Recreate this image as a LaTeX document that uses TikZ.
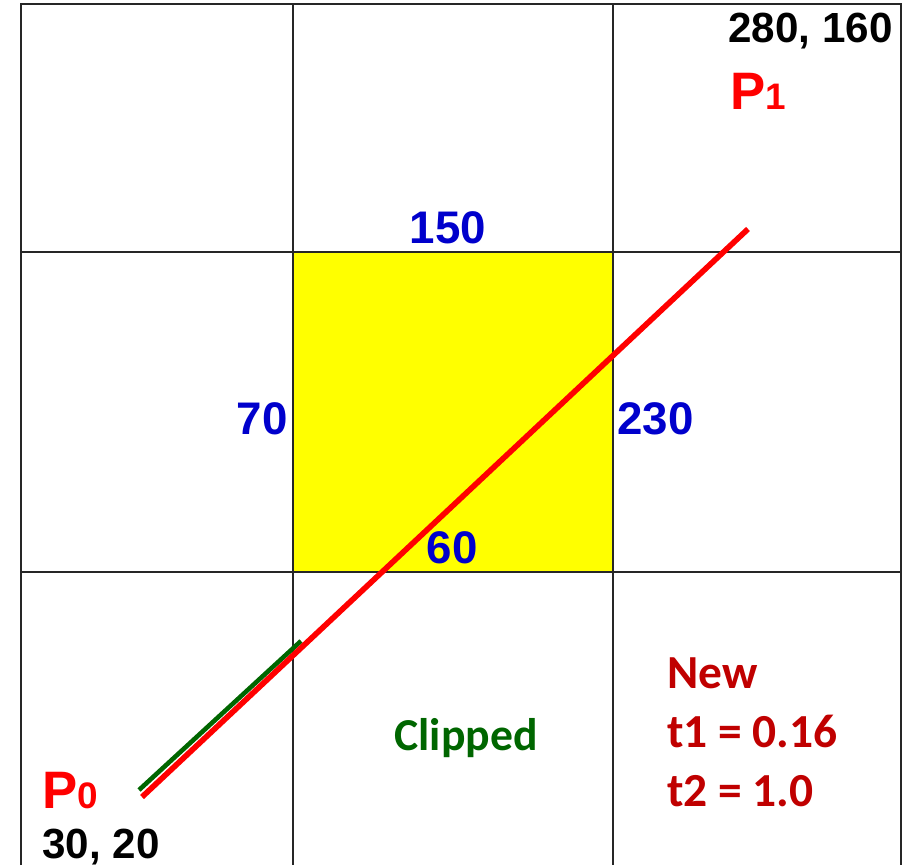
\documentclass[tikz,border=0pt]{standalone}
\usepackage{fontspec}
\setmainfont{Liberation Sans}
\newfontfamily\calibfont{Carlito}
\usepackage{tikz}
\definecolor{numblue}{HTML}{0000CC}
\definecolor{linered}{HTML}{FF0000}
\definecolor{notered}{HTML}{C00000}
\definecolor{clipgreen}{HTML}{006600}
\definecolor{winyellow}{HTML}{FFFF00}

\begin{document}
\begin{tikzpicture}[x=0.02cm, y=-0.02cm,
      grid/.style={draw=black!85, line width=0.8pt},
      num/.style={text=numblue, font=\fontsize{26}{30}\selectfont\bfseries, inner sep=0pt},
      coordlabel/.style={text=black, font=\fontsize{24}{28}\selectfont\bfseries, inner sep=0pt},
      ptlabel/.style={text=linered, font=\fontsize{30}{34}\selectfont\bfseries, inner sep=0pt},
      note/.style={text=notered, font=\calibfont\fontsize{27}{32}\selectfont\bfseries, inner sep=0pt, anchor=base west}
    ]
      \useasboundingbox (0,0) rectangle (912,865);

      % clip window
      \fill[winyellow] (293,252) rectangle (613,572);

      % region grid
      \draw[grid] (21,865) -- (21,4) -- (901,4) -- (901,865);
      \draw[grid] (293,4) -- (293,865);
      \draw[grid] (613,4) -- (613,865);
      \draw[grid] (21,252) -- (901,252);
      \draw[grid] (21,572) -- (901,572);

      % window bounds
      \node[num, anchor=base] (ytop) at (448,243) {150};
      \node[num, anchor=base east] (xmin) at (288,434) {70};
      \node[num, anchor=base west] (xmax) at (617,434) {230};
      \node[num, anchor=base] (ybot) at (452,563) {60};

      % end points
      \node[ptlabel, anchor=base west] (p1lab) at (730,110) {P{\fontsize{21}{24}\selectfont 1}};
      \node[coordlabel, anchor=base east] (p1xy) at (893,43) {280, 160};
      \node[ptlabel, anchor=base west] (p0lab) at (42,808) {P{\fontsize{21}{24}\selectfont 0}};
      \node[coordlabel, anchor=base west] (p0xy) at (42,858) {30, 20};

      \coordinate (g0) at (139,790);
      \coordinate (g1) at (301,641);
      \coordinate (p0) at (142,797);
      \coordinate (p1) at (748,229);

      \draw[clipgreen, line width=2.6pt] (g0) -- (g1);
      \draw[linered, line width=3.2pt] (p0) -- (p1);

      \node[note, font=\calibfont\fontsize{26}{30}\selectfont\bfseries, text=clipgreen, anchor=base] (clip) at (466,750) {Clipped};
      \node[note] (newlab) at (667,688) {New};
      \node[note] (t1lab) at (667,747) {t1 = 0.16};
      \node[note] (t2lab) at (667,806) {t2 = 1.0};
    \end{tikzpicture}
\end{document}
